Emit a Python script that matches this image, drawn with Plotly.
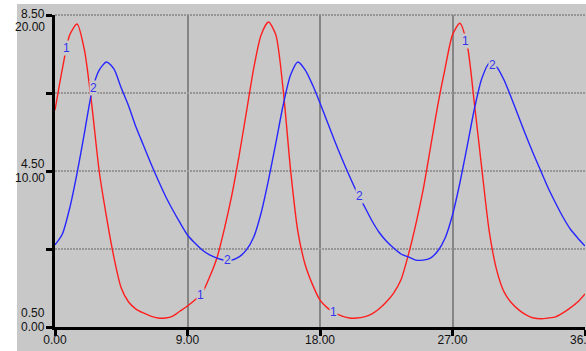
import numpy as np
import plotly.graph_objects as go

# Simulation time axis
time = np.arange(0, 36.5, 0.5)

# Series 1 (left scale 0.50 .. 8.50)
series1 = [6.06, 7.12, 7.99, 8.27, 7.60, 6.19, 4.50, 3.32, 2.29, 1.50,
           1.14, 0.96, 0.86, 0.78, 0.73, 0.73, 0.78, 0.91, 1.04, 1.19,
           1.37, 1.78, 2.27, 3.01, 3.86, 4.88, 6.01, 7.14, 7.99, 8.32,
           7.99, 6.58, 4.53, 2.94, 2.09, 1.58, 1.19, 0.99, 0.86, 0.78,
           0.73, 0.73, 0.76, 0.83, 0.96, 1.14, 1.37, 1.71, 2.35, 3.12,
           4.01, 5.09, 6.19, 7.14, 7.99, 8.29, 7.73, 6.19, 4.53, 2.94,
           1.96, 1.40, 1.12, 0.94, 0.81, 0.73, 0.71, 0.73, 0.76, 0.86,
           0.99, 1.14, 1.35]

# Series 2 (left scale 0.00 .. 20.00)
series2 = [5.26, 5.96, 7.63, 9.87, 12.44, 15.06, 16.47, 16.99, 16.54, 15.32,
           14.17, 12.82, 11.67, 10.51, 9.42, 8.40, 7.50, 6.67, 5.90, 5.38,
           4.94, 4.62, 4.42, 4.29, 4.29, 4.49, 4.94, 5.77, 7.31, 9.42,
           11.79, 14.23, 16.15, 16.99, 16.47, 15.51, 14.36, 13.14, 11.92, 10.77,
           9.68, 8.65, 7.76, 6.86, 6.09, 5.51, 5.06, 4.68, 4.49, 4.29,
           4.29, 4.42, 4.87, 5.71, 7.18, 9.23, 11.60, 14.04, 15.96, 16.92,
           16.67, 15.83, 14.68, 13.46, 12.24, 11.09, 10.00, 8.91, 7.95, 7.05,
           6.28, 5.71, 5.19]

# Times at which the line numbers are printed on each curve
label1_times = [0.8, 9.85, 18.9, 27.9]
label2_times = [2.6, 11.7, 20.65, 29.7]

x_tick_vals = [0, 9, 18, 27, 36]
x_tick_text = ["0.00", "9.00", "18.00", "27.00", "36.00"]
y1_tick_vals = [0.5, 4.5, 8.5]
y1_tick_text = ["0.50", "4.50", "8.50"]
y2_tick_vals = [0, 10, 20]
y2_tick_text = ["0.00", "10.00", "20.00"]

BG = "#C8C8C8"
RED = "#FF1E1E"
BLUE = "#2626FF"
LABEL_BLUE = "#3434F0"
GRID_DOT = "#969696"
FONT = "Liberation Sans, Arial, sans-serif"

W, H = 586, 351
ML, MR, MT, MB = 55, 1, 15, 24
PW, PH = W - ML - MR, H - MT - MB

fig = go.Figure()
fig.add_trace(go.Scatter(x=time, y=series1, mode="lines", yaxis="y",
                         line=dict(color=RED, width=1.4, shape="spline", smoothing=0.7),
                         hoverinfo="skip"))
fig.add_trace(go.Scatter(x=time, y=series2, mode="lines", yaxis="y2",
                         line=dict(color=BLUE, width=1.4, shape="spline", smoothing=0.7),
                         hoverinfo="skip"))

annotations = []
# Line numbers sitting on the curves, with a background that breaks the line
for t in label1_times:
    annotations.append(dict(x=t, y=float(np.interp(t, time, series1)), xref="x", yref="y",
                            text="1", showarrow=False, bgcolor=BG, borderpad=0,
                            font=dict(family=FONT, size=12, color=LABEL_BLUE)))
for t in label2_times:
    annotations.append(dict(x=t, y=float(np.interp(t, time, series2)), xref="x", yref="y2",
                            text="2", showarrow=False, bgcolor=BG, borderpad=0,
                            font=dict(family=FONT, size=12, color=LABEL_BLUE)))

# Stacked left-axis labels: series 1 value above series 2 value at each tick
upper_shift = [14, 7, 1]
lower_shift = [0, -7, -12]
lab_x = (46 - ML) / PW
for i in range(3):
    annotations.append(dict(x=lab_x, y=y1_tick_vals[i], xref="paper", yref="y",
                            text=y1_tick_text[i], showarrow=False, xanchor="right",
                            yanchor="middle", yshift=upper_shift[i], borderpad=0,
                            font=dict(family=FONT, size=12, color="#111111")))
    annotations.append(dict(x=lab_x, y=y2_tick_vals[i], xref="paper", yref="y2",
                            text=y2_tick_text[i], showarrow=False, xanchor="right",
                            yanchor="middle", yshift=lower_shift[i], borderpad=0,
                            font=dict(family=FONT, size=12, color="#111111")))

shapes = [
    # White border strips along the left and top edges of the page
    dict(type="rect", xref="paper", yref="paper", layer="below",
         x0=-ML / PW, x1=(17 - ML) / PW, y0=-MB / PH, y1=(H - MB) / PH,
         fillcolor="white", line=dict(width=0)),
    dict(type="rect", xref="paper", yref="paper", layer="below",
         x0=-ML / PW, x1=(W - ML) / PW, y0=(H - MB - 4) / PH, y1=(H - MB) / PH,
         fillcolor="white", line=dict(width=0)),
    # Dotted gridline along the top of the plotting area
    dict(type="line", xref="paper", yref="paper", layer="below",
         x0=0, x1=1, y0=1, y1=1,
         line=dict(color=GRID_DOT, width=2, dash="2px,1px")),
]

fig.update_layout(
    width=W, height=H, autosize=False,
    margin=dict(l=ML, r=MR, t=MT, b=MB, pad=0),
    paper_bgcolor=BG, plot_bgcolor=BG,
    showlegend=False,
    font=dict(family=FONT, size=12, color="#111111"),
    xaxis=dict(range=[0, 36], tickvals=x_tick_vals, ticktext=x_tick_text,
               showgrid=True, gridcolor="#858585", gridwidth=1.5,
               showline=True, linecolor="black", linewidth=3,
               ticks="outside", ticklen=6, tickwidth=3, tickcolor="black",
               ticklabeloverflow="allow", automargin=False, ticklabelstandoff=-6,
               zeroline=False, tickfont=dict(family=FONT, size=12, color="#111111")),
    yaxis=dict(range=[0.5, 8.5], tickvals=[0.5, 2.5, 4.5, 6.5, 8.5],
               showticklabels=False, showgrid=True, gridcolor=GRID_DOT,
               gridwidth=2, griddash="2px,1px",
               showline=True, linecolor="black", linewidth=3,
               ticks="outside", ticklen=6, tickwidth=3, tickcolor="black",
               automargin=False, zeroline=False),
    yaxis2=dict(range=[0, 20], overlaying="y", side="left", visible=False,
                showgrid=False, zeroline=False),
    annotations=annotations,
    shapes=shapes,
)

fig.write_html("out.html")
